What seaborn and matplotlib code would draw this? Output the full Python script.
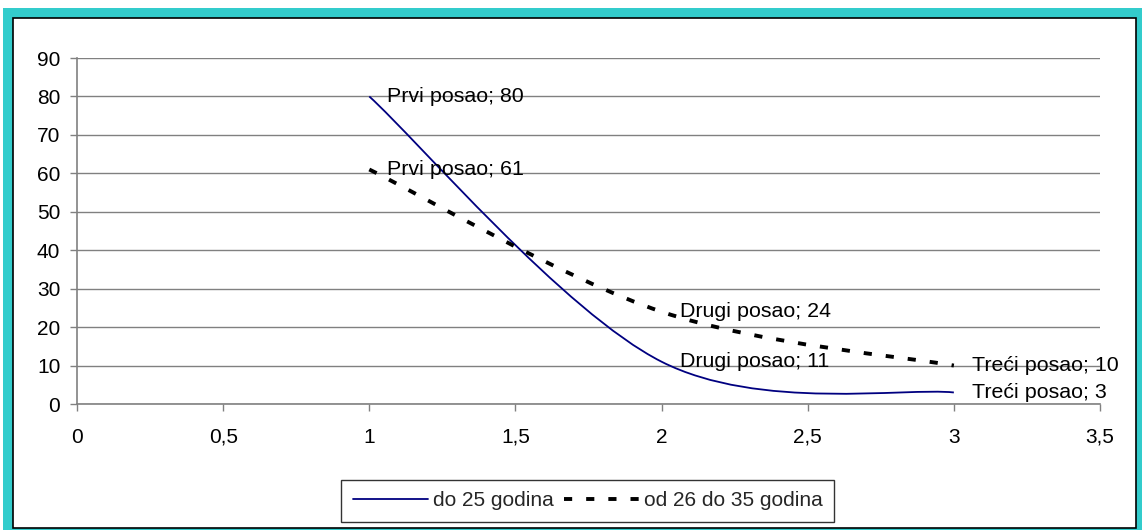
import numpy as np
import matplotlib.pyplot as plt
import seaborn as sns
from matplotlib.path import Path
from matplotlib.patches import PathPatch, Rectangle
from matplotlib.lines import Line2D
from matplotlib.ticker import FuncFormatter, MultipleLocator

poslovi = ["Prvi posao", "Drugi posao", "Treći posao"]
redni_broj = [1, 2, 3]
do_25 = [80, 11, 3]
od_26_do_35 = [61, 24, 10]
serije = ["do 25 godina", "od 26 do 35 godina"]

sns.set_theme(style="white")
plt.rcParams['font.family'] = ['Liberation Sans', 'DejaVu Sans']


def smooth_path(x, y):
    # excel style smoothed line: cubic bezier through the points
    pts = np.column_stack([x, y]).astype(float)
    n = len(pts)
    verts = [pts[0]]
    codes = [Path.MOVETO]
    for i in range(n - 1):
        p_prev = pts[i - 1] if i > 0 else pts[i]
        p_next = pts[i + 2] if i + 2 < n else pts[i + 1]
        c1 = pts[i] + (pts[i + 1] - p_prev) / 6
        c2 = pts[i + 1] - (p_next - pts[i]) / 6
        verts += [c1, c2, pts[i + 1]]
        codes += [Path.CURVE4] * 3
    return Path(verts, codes)


W, H = 1142, 530
fig = plt.figure(figsize=(W / 100, H / 100), dpi=100)
fig.patch.set_facecolor('white')

# turquoise frame + inner white panel
fig.patches.append(Rectangle((3 / W, 0), (W - 3) / W, (H - 8) / H, transform=fig.transFigure,
                             facecolor='#33CCCC', edgecolor='none', zorder=-2))
fig.patches.append(Rectangle((13 / W, 2 / H), (1136 - 13) / W, (528 - 18) / H, transform=fig.transFigure,
                             facecolor='white', edgecolor='black', lw=1.2, zorder=-1))

ax = fig.add_axes([77 / W, (H - 404) / H, (1100 - 77) / W, (404 - 58) / H])
ax.set_facecolor('none')

ax.set_xlim(0, 3.5)
ax.set_ylim(0, 90)
ax.xaxis.set_major_locator(MultipleLocator(0.5))
ax.yaxis.set_major_locator(MultipleLocator(10))
ax.xaxis.set_major_formatter(FuncFormatter(lambda v, p: f"{v:g}".replace('.', ',')))

ax.yaxis.grid(True, color='#808080', lw=1)
ax.xaxis.grid(False)
for s in ['top', 'right']:
    ax.spines[s].set_visible(False)
for s in ['left', 'bottom']:
    ax.spines[s].set_color('#808080')
    ax.spines[s].set_linewidth(1.2)
ax.tick_params(axis='both', direction='out', length=5, width=1, color='#808080',
               labelsize=15, labelcolor='black', left=True, bottom=True)
ax.tick_params(axis='y', pad=7)
ax.tick_params(axis='x', pad=12)

crtkano = (0, (2.1, 3.6))
p1 = PathPatch(smooth_path(redni_broj, do_25), fill=False, edgecolor='#000080', lw=1.3,
               zorder=3, capstyle='butt')
p2 = PathPatch(smooth_path(redni_broj, od_26_do_35), fill=False, edgecolor='black', lw=2.8,
               linestyle=crtkano, zorder=3, capstyle='butt')
ax.add_patch(p1)
ax.add_patch(p2)

for vals in [do_25, od_26_do_35]:
    for x, y, name in zip(redni_broj, vals, poslovi):
        ax.annotate(f"{name}; {y}", (x, y), xytext=(13, 0), textcoords='offset points',
                    ha='left', va='center', fontsize=15.4, color='black', zorder=4)

handles = [Line2D([], [], color='#000080', lw=1.3),
           Line2D([], [], color='black', lw=2.8, linestyle=crtkano, dash_capstyle='butt')]
leg = fig.legend(handles, serije, loc='center', bbox_to_anchor=(587.5 / W, (H - 501) / H),
                 ncol=2, fontsize=15, frameon=True, fancybox=False, shadow=False,
                 handlelength=3.6, handletextpad=0.24, columnspacing=0.48, borderpad=0.55,
                 borderaxespad=0)
leg.get_frame().set_edgecolor('black')
leg.get_frame().set_linewidth(1)

fig.savefig('out.png', dpi=100)
